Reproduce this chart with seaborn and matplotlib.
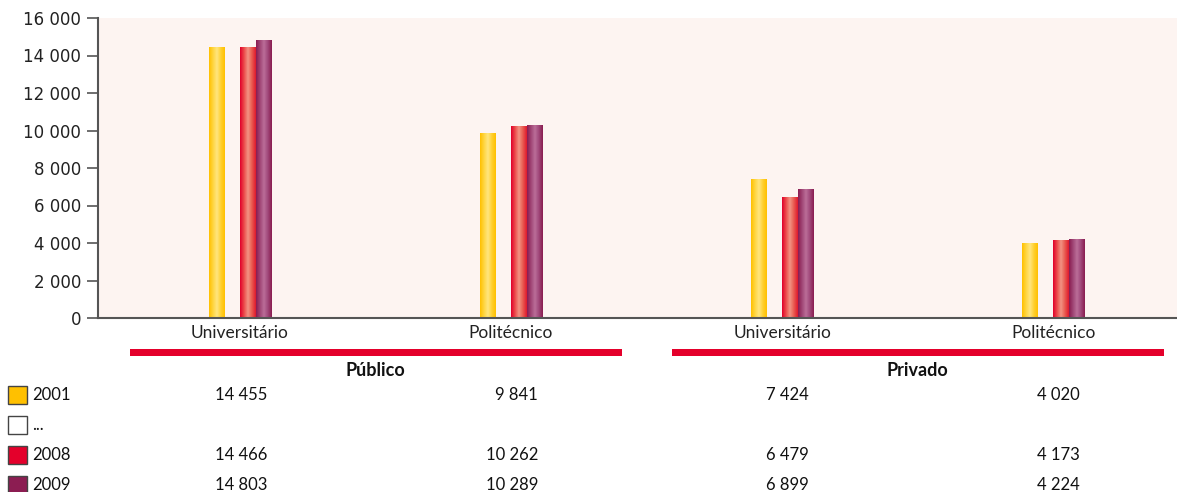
import numpy as np
import pandas as pd
import matplotlib
matplotlib.use("Agg")
import matplotlib.pyplot as plt
from matplotlib.colors import LinearSegmentedColormap
from matplotlib.patches import Rectangle
from matplotlib.transforms import blended_transform_factory
import seaborn as sns

# Data
sectors = ["Público", "Público", "Privado", "Privado"]
categories = ["Universitário", "Politécnico", "Universitário ", "Politécnico "]
tick_labels = ["Universitário", "Politécnico", "Universitário", "Politécnico"]
years = ["2001", "...", "2008", "2009"]
values_2001 = [14455, 9841, 7424, 4020]
values_gap = [np.nan, np.nan, np.nan, np.nan]
values_2008 = [14466, 10262, 6479, 4173]
values_2009 = [14803, 10289, 6899, 4224]
y_ticks = [0, 2000, 4000, 6000, 8000, 10000, 12000, 14000, 16000]

series = {"2001": values_2001, "...": values_gap, "2008": values_2008, "2009": values_2009}
rows = []
for yr, vals in series.items():
    for cat, v in zip(categories, vals):
        rows.append({"categoria": cat, "ano": yr, "valor": v})
df = pd.DataFrame(rows)

base_colors = {"2001": "#FFC000", "...": "#FFFFFF", "2008": "#E4002B", "2009": "#8C1D52"}
gradients = {
    "2001": ["#FFC000", "#FFD640", "#FFE680", "#FFD030", "#FFC000"],
    "2008": ["#E0002A", "#EC4A4A", "#F29484", "#EA5A50", "#DE1A2E"],
    "2009": ["#8A1C50", "#A04676", "#BB6E99", "#A0487A", "#8A1C50"],
}

def fmt(v):
    return f"{int(v):,}".replace(",", " ")

sns.set_theme(style="white")
plt.rcParams["font.family"] = ["DejaVu Sans"]

fig = plt.figure(figsize=(11.77, 4.92), dpi=100)
ax = fig.add_axes([98 / 1177, 1 - 318 / 492, 1 - 98 / 1177, 300 / 492])
ax.set_facecolor("#FDF4F1")

sns.barplot(data=df, x="categoria", y="valor", hue="ano", order=categories,
            hue_order=years, palette=base_colors, width=0.229, dodge=True,
            errorbar=None, legend=False, linewidth=0, saturation=1, ax=ax)

# Cylinder-like shading on each bar
for cont, yr in zip(ax.containers, years):
    if yr not in gradients:
        continue
    cmap = LinearSegmentedColormap.from_list("g" + yr, gradients[yr])
    grad = np.linspace(0, 1, 64).reshape(1, -1)
    for p in cont.patches:
        h = p.get_height()
        if not np.isfinite(h) or h <= 0:
            continue
        x0, w = p.get_x(), p.get_width()
        im = ax.imshow(grad, cmap=cmap, aspect="auto", extent=[x0, x0 + w, 0, h],
                       zorder=p.get_zorder() + 0.1, interpolation="bilinear")
        im.set_clip_path(p)

ax.set_xlim(-0.524, 3.457)
ax.set_ylim(0, 16000)
ax.set_yticks(y_ticks)
ax.set_yticklabels([fmt(t) for t in y_ticks], fontsize=12, color="#222222")
ax.set_xticks(range(len(categories)))
ax.set_xticklabels(tick_labels, fontsize=12.5, color="#222222", family="Lato")
ax.set_xlabel("")
ax.set_ylabel("")
for s in ["top", "right"]:
    ax.spines[s].set_visible(False)
for s in ["left", "bottom"]:
    ax.spines[s].set_color("#555555")
    ax.spines[s].set_linewidth(1.5)
ax.tick_params(axis="y", length=8, width=1.2, color="#555555", pad=4, left=True)
ax.tick_params(axis="x", length=0, pad=5)

# Sector bands and names under the axis
tr = blended_transform_factory(ax.transData, fig.transFigure)
for center, name in [(0.5, "Público"), (2.5, "Privado")]:
    ax.add_patch(Rectangle((center - 0.9075, 1 - 356 / 492), 1.815, 7 / 492,
                           transform=tr, color="#E4002B", clip_on=False, lw=0))
    ax.text(center, 1 - 370 / 492, name, transform=tr, ha="center", va="center",
            fontsize=13, fontweight="bold", family="Lato", color="#111111")

# Data table with colour keys
row_y = [395, 425, 455, 485]
for yr, ypx in zip(years, row_y):
    yf = 1 - ypx / 492
    fig.patches.append(Rectangle((8 / 1177, yf - 9 / 492), 19 / 1177, 18 / 492,
                                 transform=fig.transFigure, facecolor=base_colors[yr],
                                 edgecolor="#444444", lw=1))
    fig.text(32 / 1177, yf, yr, ha="left", va="center", fontsize=12,
             family="Lato", color="#111111")
    for i, v in enumerate(series[yr]):
        if np.isfinite(v):
            ax.text(i + 0.1, yf, fmt(v), transform=tr, ha="right", va="center",
                    fontsize=12, family="Lato", color="#111111")

fig.savefig("out.png", dpi=100)
